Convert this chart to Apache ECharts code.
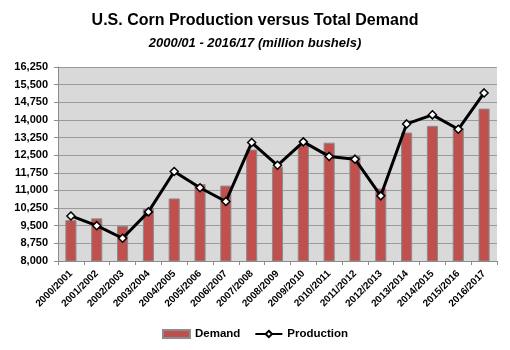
<!DOCTYPE html>
<html>
<head>
<meta charset="utf-8">
<script src="https://cdn.jsdelivr.net/npm/echarts@6/dist/echarts.min.js"></script>
<style>
  html, body { margin: 0; padding: 0; background: #fff; }
  #chart { width: 510px; height: 350px; }
</style>
</head>
<body>
<div id="chart"></div>
<script>
// marketing years
const years = ['2000/2001', '2001/2002', '2002/2003', '2003/2004', '2004/2005', '2005/2006',
  '2006/2007', '2007/2008', '2008/2009', '2009/2010', '2010/2011', '2011/2012',
  '2012/2013', '2013/2014', '2014/2015', '2015/2016', '2016/2017'];

// total demand (million bushels)
const demand = [9740, 9815, 9490, 10230, 10660, 11270, 11207, 12737, 12010, 12925,
  13032, 12460, 11083, 13460, 13748, 13664, 14480];

// production (million bushels)
const production = [9915, 9503, 8967, 10089, 11807, 11114, 10531, 13038, 12070, 13067,
  12447, 12330, 10770, 13829, 14216, 13601, 15148];

const yMin = 8000;
const yMax = 16250;
const yStep = 750;

const chart = echarts.init(document.getElementById('chart'));

const option = {
  backgroundColor: '#fff',
  title: {
    text: 'U.S. Corn Production versus Total Demand',
    subtext: '2000/01 - 2016/17 (million bushels)',
    left: 'center',
    top: 8,
    itemGap: 8,
    textStyle: { fontFamily: 'Liberation Sans', fontWeight: 'bold', fontSize: 16, color: '#000' },
    subtextStyle: { fontFamily: 'Liberation Sans', fontWeight: 'bold', fontStyle: 'italic', fontSize: 13, color: '#000' }
  },
  legend: {
    bottom: 5,
    left: 'center',
    itemWidth: 27,
    itemHeight: 8,
    itemGap: 14,
    textStyle: { fontFamily: 'Liberation Sans', fontWeight: 'bold', fontSize: 11.5, color: '#000' },
    data: [
      { name: 'Demand', icon: 'rect' },
      { name: 'Production' }
    ]
  },
  grid: {
    left: 58,
    right: 13,
    top: 67,
    bottom: 89,
    show: true,
    backgroundColor: '#d9d9d9',
    borderWidth: 0
  },
  xAxis: {
    type: 'category',
    data: years,
    axisLine: { lineStyle: { color: '#8c8c8c', width: 1 } },
    axisTick: { show: true, interval: 0, length: 4, lineStyle: { color: '#8c8c8c' } },
    axisLabel: {
      interval: 0,
      rotate: 45,
      margin: 11,
      fontFamily: 'Liberation Sans',
      fontWeight: 'bold',
      fontSize: 10,
      color: '#000'
    }
  },
  yAxis: {
    type: 'value',
    min: yMin,
    max: yMax,
    interval: yStep,
    axisLine: { show: true, lineStyle: { color: '#8c8c8c', width: 1 } },
    axisTick: { show: true, length: 4, lineStyle: { color: '#8c8c8c' } },
    splitLine: { lineStyle: { color: '#9a9a9a', width: 1 } },
    axisLabel: {
      margin: 10,
      fontFamily: 'Liberation Sans',
      fontWeight: 'bold',
      fontSize: 11,
      color: '#000',
      formatter: v => v.toLocaleString('en-US')
    }
  },
  series: [
    {
      name: 'Demand',
      type: 'bar',
      data: demand,
      barWidth: '43%',
      itemStyle: { color: '#c0504d', borderColor: '#8c8c8c', borderWidth: 1 }
    },
    {
      name: 'Production',
      type: 'line',
      data: production,
      symbol: 'diamond',
      symbolSize: 8,
      lineStyle: { color: '#000', width: 3 },
      itemStyle: { color: '#fff', borderColor: '#000', borderWidth: 1.5 },
      z: 3
    }
  ]
};

chart.setOption(option);
</script>
</body>
</html>
